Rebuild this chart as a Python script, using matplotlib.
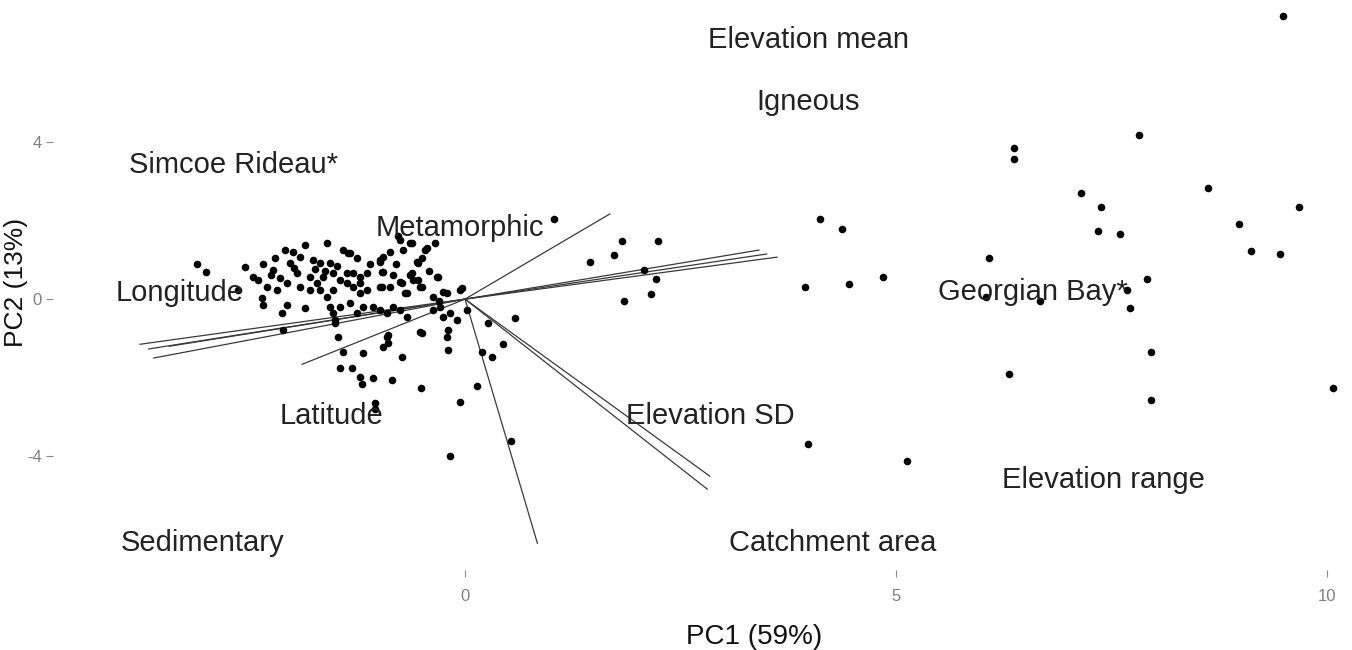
import numpy as np
import matplotlib
matplotlib.use('Agg')
import matplotlib.pyplot as plt

plt.rcParams['font.family'] = ['Liberation Sans', 'DejaVu Sans']
plt.rcParams['axes.unicode_minus'] = False

# site scores (PC1, PC2)
pc1 = [
  9.49, 7.82, 6.37, 6.37, 8.62, 7.15, 7.38, 9.68, 8.98, 7.34, 7.60, 9.12, 9.45,
  4.12, 4.37, 6.08, 3.94, 4.45, 4.85, 7.91, 6.04, 6.67, 7.68, 7.71, 7.96, 6.31,
  7.96, 10.07, 3.98, 5.13,
  1.03, 1.82, 2.24, 1.45, 1.73, 2.08, 2.22, 2.16, 1.84, 0.58, 0.44, 0.27, 0.20,
  0.31, 0.14, -0.06, -0.51, -0.17, 0.53,
  -3.11, -3.00, -2.55, -2.34, -2.46, -2.40, -2.23, -2.15, -2.30, -2.36, -2.34,
  -2.12, -2.06, -1.86, -2.11, -2.09, -2.00, -1.86, -1.91, -1.76, -1.60, -1.68,
  -1.57, -2.03, -1.95, -2.06, -1.91, -2.18, -1.80, -1.72, -1.65, -1.53, -1.45,
  -1.37, -1.30, -1.22, -1.14, -1.36, -1.25, -1.37, -1.30, -1.22, -1.14, -1.22,
  -1.53, -1.60, -1.68, -1.80, -1.57, -1.53, -1.51, -1.45, -1.33, -1.25, -1.18,
  -1.07, -0.99, -0.90, -0.84, -0.75, -0.67, -0.95, -0.99, -0.87, -0.75, -0.72,
  -0.61, -0.46, -0.50, -0.55, -0.35, -0.31, -0.95, -0.84, -0.96, -0.87, -0.73,
  -0.70, -0.61, -0.55, -0.50, -0.37, -0.29, -0.21, -0.06, -0.37, -0.26, -0.20,
  -0.21, -0.20, -0.52, -0.73, -0.90, -0.89, -0.95, -1.42, -1.18, -1.45, -1.31,
  -1.22, -1.07, -1.19, -0.85, -1.04, -1.04, -1.47, -1.51, -0.03, 0.02, -0.09,
  -0.17, -0.78, -0.64, -0.44, -0.56, -0.99, -0.96, -0.64, -0.60, -0.52, -0.32,
  -0.99, -0.75, -0.67, -0.26, -1.33, -1.42, -0.50, -0.89, -2.63,
  -2.20, -1.98, -1.74, -1.48, -1.10, -2.25, -1.62, -0.80, -0.42, -0.30,
]
pc2 = [
  7.21, 4.19, 3.85, 3.57, 2.84, 2.71, 2.34, 2.34, 1.91, 1.73, 1.66, 1.23, 1.16,
  2.04, 1.78, 1.05, 0.31, 0.38, 0.56, 0.51, 0.06, -0.05, 0.23, -0.23, -1.35, -1.91,
  -2.57, -2.27, -3.69, -4.13,
  2.04, 1.48, 1.48, 0.94, 1.12, 0.74, 0.51, 0.13, -0.05, -0.48, -1.15, -0.61, -1.35,
  -1.48, -2.22, -2.62, -2.27, -4.00, -3.62,
  0.89, 0.69, 0.82, 0.89, 0.56, 0.48, 0.74, 0.54, 0.31, 0.03, -0.15,
  -0.36, -0.15, -0.23, -0.79, 1.25, 1.20, 1.38, 1.07, 0.99, 1.43, 0.92,
  0.92, 0.92, 0.66, 0.41, 0.31, 0.23, 0.56, 0.41, 0.56, 0.66, 0.48,
  0.66, 0.66, 0.56, 0.66, 1.17, 1.04, 0.41, 0.31, 0.41, 0.23, 0.15,
  0.23, 0.05, 0.23, 0.23, -0.20, -0.36, -0.61, -0.20, -0.10, -0.36, -0.20,
  -0.20, -0.28, -0.36, -0.20, -0.28, -0.46, 1.07, 0.94, 1.20, 1.50, 1.25,
  1.43, 1.25, 1.04, 0.92, 1.43, 0.56, 0.69, 0.61, 0.31, 0.31, 0.41,
  0.15, 0.66, 0.48, 0.31, 0.05, -0.20, 0.15, 0.23, -0.28, -0.46, -0.79,
  -0.97, -1.30, -0.84, -1.48, -0.97, -1.12, -1.22, -1.35, -1.38, -1.76, -1.76,
  -1.99, -2.01, -2.17, -2.06, -2.65, -2.80, -0.97, -0.54, 0.28, -0.28, -0.54,
  -0.36, 1.61, 1.43, 1.30, 0.94, 0.99, 0.69, 0.61, 0.48, 0.31, 0.56,
  0.31, 0.43, 0.15, 0.18, 1.17, 1.25, -0.87, -0.92, 0.23,
  1.05, 0.80, 0.78, 0.85, 0.90, 0.62, 0.72, 0.90, 0.72, -0.05,
]

# loading vectors (end points, drawn from origin)
load_x = [1.68, -1.89, 3.41, 3.62, 3.50, -3.77, -3.67, -3.61, -3.43, 2.84, 2.81, 0.84]
load_y = [2.17, -1.66, 1.25, 1.07, 1.15, -1.15, -1.27, -1.50, -1.20, -4.51, -4.84, -6.22]

labels = ['Elevation mean', 'Igneous', 'Simcoe Rideau*', 'Metamorphic', 'Longitude',
          'Georgian Bay*', 'Latitude', 'Elevation SD', 'Elevation range',
          'Sedimentary', 'Catchment area']
label_x = [3.98, 3.98, -2.69, -0.06, -3.31, 6.59, -1.55, 2.85, 7.41, -3.04, 4.26]
label_y = [6.60, 5.02, 3.41, 1.81, 0.15, 0.18, -2.98, -2.98, -4.61, -6.22, -6.22]

fig = plt.figure(figsize=(13.52, 6.5), dpi=100)
ax = fig.add_axes([0.0392, 0.1231, 0.9608, 0.8769])

for lx, ly in zip(load_x, load_y):
  ax.plot([0, lx], [0, ly], color='#3a3a3a', linewidth=0.9, zorder=1)

ax.scatter(pc1, pc2, s=30, color='black', linewidths=0, zorder=2)

for t, x, y in zip(labels, label_x, label_y):
  ax.text(x, y, t, ha='center', va='center', fontsize=21, color='#222222', zorder=3)

ax.set_xlim(-4.78, 10.29)
ax.set_ylim(-6.90, 7.62)
ax.set_xticks([0, 5, 10])
ax.set_yticks([-4, 0, 4])
ax.tick_params(colors='#8a8a8a', labelsize=12, length=5, width=0.8, labelcolor='#808080')
ax.tick_params(axis='x', pad=9)
ax.tick_params(axis='y', pad=3)
for s in ax.spines.values():
  s.set_visible(False)
ax.set_xlabel('PC1 (59%)', fontsize=20, color='#111111')
ax.set_ylabel('PC2 (13%)', fontsize=19, color='#111111')
ax.xaxis.set_label_coords(0.54, -0.095)
ax.yaxis.set_label_coords(-0.019, 0.505)

fig.savefig('out.png', dpi=100)
